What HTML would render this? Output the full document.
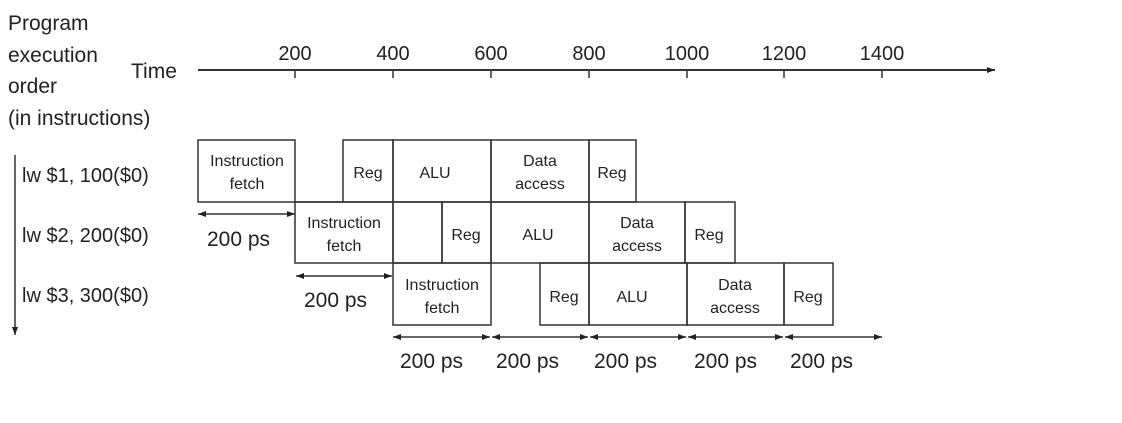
<!DOCTYPE html>
<html><head><meta charset="utf-8"><style>
html,body{margin:0;padding:0;background:#fff;}
svg text{font-family:"Liberation Sans",Arial,sans-serif;fill:#222;}
</style></head><body>
<svg width="1122" height="418" viewBox="0 0 1122 418" xmlns="http://www.w3.org/2000/svg">
<defs>
<marker id="ah" markerWidth="8" markerHeight="6" refX="8" refY="3" orient="auto" markerUnits="userSpaceOnUse"><path d="M0,0 L8,3 L0,6 z" fill="#222"/></marker>
<marker id="as" markerWidth="8" markerHeight="6" refX="0" refY="3" orient="auto" markerUnits="userSpaceOnUse"><path d="M8,0 L0,3 L8,6 z" fill="#222"/></marker>
</defs>
<g font-size="21">
<text x="8" y="30">Program</text>
<text x="8" y="62">execution</text>
<text x="8" y="93">order</text>
<text x="8" y="125">(in instructions)</text>
<text x="131" y="78">Time</text>
</g>
<line x1="198" y1="70" x2="995" y2="70" stroke="#333" stroke-width="2" marker-end="url(#ah)"/>
<g stroke="#333" stroke-width="1.5">
<line x1="295" y1="70" x2="295" y2="78"/><line x1="393" y1="70" x2="393" y2="78"/><line x1="491" y1="70" x2="491" y2="78"/><line x1="589" y1="70" x2="589" y2="78"/><line x1="687" y1="70" x2="687" y2="78"/><line x1="784" y1="70" x2="784" y2="78"/><line x1="882" y1="70" x2="882" y2="78"/>
</g>
<g font-size="20" text-anchor="middle">
<text x="295" y="60">200</text><text x="393" y="60">400</text><text x="491" y="60">600</text><text x="589" y="60">800</text><text x="687" y="60">1000</text><text x="784" y="60">1200</text><text x="882" y="60">1400</text>
</g>
<line x1="15" y1="155" x2="15" y2="335" stroke="#333" stroke-width="1.5" marker-end="url(#ah)"/>
<g font-size="20">
<text x="22" y="182">lw  $1, 100($0)</text>
<text x="22" y="242">lw  $2, 200($0)</text>
<text x="22" y="302">lw  $3, 300($0)</text>
</g>
<g fill="none" stroke="#333" stroke-width="1.5">
<rect x="198" y="140" width="97" height="62"/>
<rect x="343" y="140" width="50" height="62"/>
<rect x="393" y="140" width="98" height="62"/>
<rect x="491" y="140" width="98" height="62"/>
<rect x="589" y="140" width="47" height="62"/>
<line x1="295" y1="202" x2="343" y2="202"/>
<rect x="295" y="202" width="98" height="61"/>
<rect x="393" y="202" width="49" height="61"/>
<rect x="442" y="202" width="49" height="61"/>
<rect x="491" y="202" width="98" height="61"/>
<rect x="589" y="202" width="96" height="61"/>
<rect x="685" y="202" width="50" height="61"/>
<rect x="393" y="263" width="98" height="62"/>
<rect x="540" y="263" width="49" height="62"/>
<rect x="589" y="263" width="98" height="62"/>
<rect x="687" y="263" width="97" height="62"/>
<rect x="784" y="263" width="49" height="62"/>
</g>
<g font-size="16" text-anchor="middle">
<text x="247" y="166">Instruction</text><text x="247" y="189">fetch</text>
<text x="368" y="178">Reg</text>
<text x="435" y="178">ALU</text>
<text x="540" y="166">Data</text><text x="540" y="189">access</text>
<text x="612" y="178">Reg</text>
<text x="344" y="228">Instruction</text><text x="344" y="251">fetch</text>
<text x="466" y="240">Reg</text>
<text x="538" y="240">ALU</text>
<text x="637" y="228">Data</text><text x="637" y="251">access</text>
<text x="709" y="240">Reg</text>
<text x="442" y="290">Instruction</text><text x="442" y="313">fetch</text>
<text x="564" y="302">Reg</text>
<text x="632" y="302">ALU</text>
<text x="735" y="290">Data</text><text x="735" y="313">access</text>
<text x="808" y="302">Reg</text>
</g>
<g stroke="#333" stroke-width="1.5">
<line x1="198" y1="214" x2="295" y2="214" marker-start="url(#as)" marker-end="url(#ah)"/>
<line x1="296" y1="276" x2="392" y2="276" marker-start="url(#as)" marker-end="url(#ah)"/>
<line x1="393" y1="337" x2="490" y2="337" marker-start="url(#as)" marker-end="url(#ah)"/>
<line x1="492" y1="337" x2="588" y2="337" marker-start="url(#as)" marker-end="url(#ah)"/>
<line x1="590" y1="337" x2="686" y2="337" marker-start="url(#as)" marker-end="url(#ah)"/>
<line x1="688" y1="337" x2="783" y2="337" marker-start="url(#as)" marker-end="url(#ah)"/>
<line x1="785" y1="337" x2="882" y2="337" marker-start="url(#as)" marker-end="url(#ah)"/>
</g>
<g font-size="21">
<text x="207" y="246">200 ps</text>
<text x="304" y="307">200 ps</text>
<text x="400" y="368">200 ps</text>
<text x="496" y="368">200 ps</text>
<text x="594" y="368">200 ps</text>
<text x="694" y="368">200 ps</text>
<text x="790" y="368">200 ps</text>
</g>
</svg>
</body></html>
